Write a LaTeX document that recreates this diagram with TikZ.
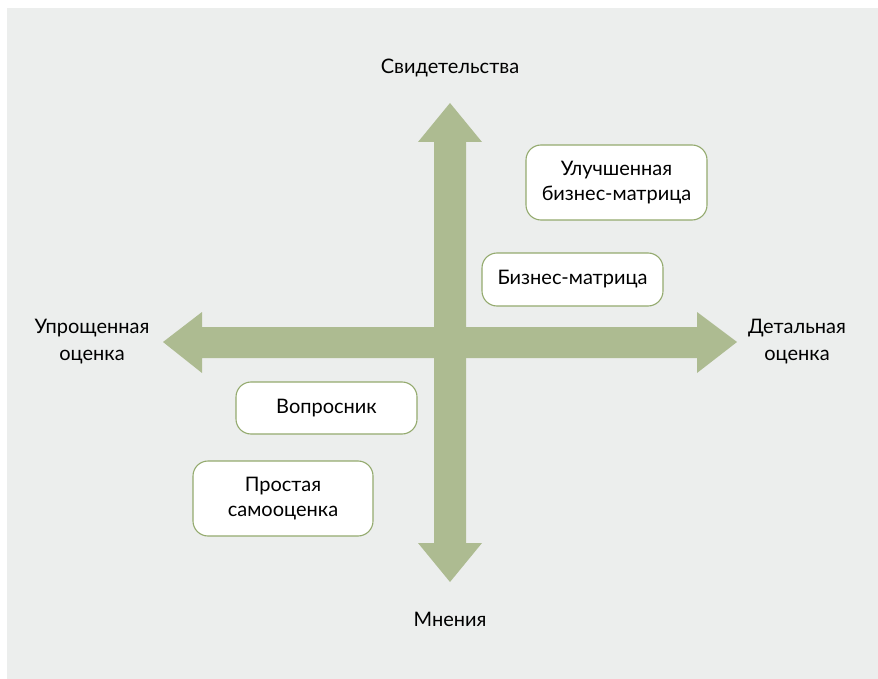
\documentclass[tikz,border=0pt]{standalone}
\usepackage{fontspec}
\setmainfont{Lato}
\definecolor{bgc}{HTML}{ECEEED}
\definecolor{arrowc}{HTML}{ADBB91}
\definecolor{boxc}{HTML}{94AA6E}
\begin{document}
\begin{tikzpicture}[x=1pt,y=-1pt,
  box/.style={draw=boxc,line width=1.1pt,fill=white,rounded corners=15pt,align=center,
    font=\fontsize{20}{25}\selectfont,inner sep=0pt},
  lbl/.style={align=center,font=\fontsize{20}{27}\selectfont,inner sep=0pt}]
\fill[white] (0,0) rectangle (878,679);
\fill[bgc] (7,8) rectangle (878,679);
\useasboundingbox (0,0) rectangle (878,679);
% horizontal double arrow
\fill[arrowc] (163,342) -- (202,312) -- (202,327) -- (697,327) -- (697,312) -- (737,342)
  -- (697,373) -- (697,358) -- (202,358) -- (202,373) -- cycle;
% vertical double arrow
\fill[arrowc] (450,103) -- (482,142) -- (466,142) -- (466,543) -- (482,543) -- (450,582)
  -- (418,543) -- (434,543) -- (434,142) -- (418,142) -- cycle;
% boxes
\node[box,minimum width=181pt,minimum height=75pt] (b1) at (616.5,182.5) {Улучшенная\\бизнес-матрица};
\node[box,minimum width=181pt,minimum height=53pt] (b2) at (572.5,279.5) {Бизнес-матрица};
\node[box,minimum width=181pt,minimum height=52pt] (b3) at (326.5,408) {Вопросник};
\node[box,minimum width=180pt,minimum height=75pt] (b4) at (283,498.5) {Простая\\самооценка};
% axis labels
\node[lbl] (top) at (450,68) {Свидетельства};
\node[lbl] (bot) at (450,619) {Мнения};
\node[lbl] (left) at (92,342) {Упрощенная\\оценка};
\node[lbl] (right) at (797,342) {Детальная\\оценка};
\end{tikzpicture}
\end{document}
